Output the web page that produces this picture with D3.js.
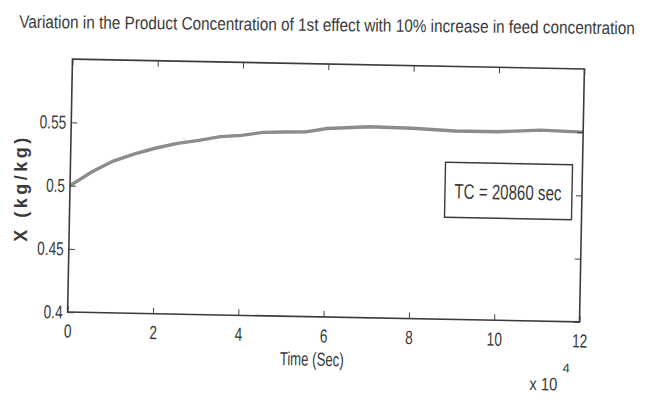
<!DOCTYPE html>
<html>
<head>
<meta charset="utf-8">
<script src="https://cdn.jsdelivr.net/npm/d3@7"></script>
<style>
  body { margin: 0; background: #fff; }
  svg { display: block; }
  text { fill: #3a3a3a; }
</style>
</head>
<body>
<svg id="chart" width="652" height="405"></svg>
<script>
// ---- data ----
const timeSec = [0, 5000, 10000, 15000, 20000, 25000, 30000, 35000, 40000, 45000, 50000, 55000, 60000, 70000, 80000, 90000, 100000, 110000, 120000];
const concentration = [0.500, 0.511, 0.520, 0.526, 0.531, 0.535, 0.5377, 0.541, 0.5423, 0.545, 0.5456, 0.546, 0.549, 0.551, 0.5505, 0.549, 0.549, 0.551, 0.550];
const xTicks = [0, 20000, 40000, 60000, 80000, 100000, 120000];
const xTickLabels = ["0", "2", "4", "6", "8", "10", "12"];
const yTicks = [0.4, 0.45, 0.5, 0.55];
const yTickLabels = ["0.4", "0.45", "0.5", "0.55"];
const titleText = "Variation in the Product Concentration of 1st effect with 10% increase in feed concentration";
const xLabel = "Time (Sec)";
const yLabel = "X (kg/kg)";
const annotation = "TC = 20860 sec";
const xExponentBase = "x 10";
const xExponent = "4";

// ---- layout ----
const svg = d3.select("#chart");
const L = 70, R = 582, T = 64, B = 317;
const cx = 326, cy = 190;
const font = "'Liberation Sans', Arial, sans-serif";

const x = d3.scaleLinear().domain([0, 120000]).range([L, R]);
const y = d3.scaleLinear().domain([0.4, 0.6]).range([B, T]);

// squeeze text horizontally to imitate the narrow scanned font
function condense(sel, f) {
  sel.each(function () {
    const w = this.getComputedTextLength();
    if (w > 0) d3.select(this).attr("textLength", w * f).attr("lengthAdjust", "spacingAndGlyphs");
  });
}

// title (scaled horizontally by a transform so its box stays inside the page)
const title = svg.append("text")
  .attr("x", 0).attr("y", 0)
  .attr("text-anchor", "middle")
  .attr("font-family", font)
  .attr("font-size", 18)
  .text(titleText);
const tw = title.node().getComputedTextLength();
title.attr("transform", `translate(327,31) rotate(0.6) scale(${616 / tw},1)`);

const g = svg.append("g").attr("transform", `rotate(1.1, ${cx}, ${cy})`);

// line
const line = d3.line().x((d, i) => x(timeSec[i])).y(d => y(d));
g.append("path")
  .datum(concentration)
  .attr("fill", "none")
  .attr("stroke", "#8c8c8c")
  .attr("stroke-width", 3.4)
  .attr("d", line);

// axes
const tickStyle = (sel, size) => {
  sel.select(".domain").remove();
  sel.selectAll("line").attr("stroke", "#444").attr("stroke-width", 1);
  sel.selectAll("text").attr("font-family", font).attr("font-size", size).attr("fill", "#3a3a3a");
};

g.append("g").attr("transform", `translate(0,${B})`)
  .call(d3.axisBottom(x).tickValues(xTicks).tickFormat((d, i) => xTickLabels[i]).tickSizeInner(-6).tickPadding(12))
  .call(s => tickStyle(s, 19))
  .call(s => condense(s.selectAll("text"), 0.72));
g.append("g").attr("transform", `translate(0,${T})`)
  .call(d3.axisTop(x).tickValues(xTicks).tickFormat("").tickSizeInner(-6))
  .call(s => tickStyle(s, 19));
g.append("g").attr("transform", `translate(${L},0)`)
  .call(d3.axisLeft(y).tickValues(yTicks).tickFormat((d, i) => yTickLabels[i]).tickSizeInner(-6).tickPadding(5))
  .call(s => tickStyle(s, 19))
  .call(s => condense(s.selectAll("text"), 0.72));
g.append("g").attr("transform", `translate(${R},0)`)
  .call(d3.axisRight(y).tickValues(yTicks).tickFormat("").tickSizeInner(-6))
  .call(s => tickStyle(s, 19));

// frame
g.append("rect")
  .attr("x", L).attr("y", T).attr("width", R - L).attr("height", B - T)
  .attr("fill", "none").attr("stroke", "#3c3c3c").attr("stroke-width", 1.6);

// annotation box
g.append("rect")
  .attr("x", 445).attr("y", 160).attr("width", 127).attr("height", 55)
  .attr("fill", "#fff").attr("stroke", "#3c3c3c").attr("stroke-width", 1.4);
g.append("text")
  .attr("x", 508).attr("y", 196)
  .attr("text-anchor", "middle")
  .attr("font-family", font)
  .attr("font-size", 21)
  .attr("textLength", 107)
  .attr("lengthAdjust", "spacingAndGlyphs")
  .text(annotation);

// x label
g.append("text")
  .attr("x", 315).attr("y", 366)
  .attr("text-anchor", "middle")
  .attr("font-family", font)
  .attr("font-size", 19)
  .attr("textLength", 64)
  .attr("lengthAdjust", "spacingAndGlyphs")
  .text(xLabel);

// exponent
g.append("text")
  .attr("x", 533).attr("y", 386)
  .attr("font-family", font)
  .attr("font-size", 18)
  .attr("textLength", 28)
  .attr("lengthAdjust", "spacingAndGlyphs")
  .text(xExponentBase);
g.append("text")
  .attr("x", 566).attr("y", 368)
  .attr("font-family", font)
  .attr("font-size", 13)
  .text(xExponent);

// y label
svg.append("text")
  .attr("transform", "translate(27,188) rotate(-90)")
  .attr("text-anchor", "middle")
  .attr("font-family", font)
  .attr("font-weight", "bold")
  .attr("font-size", 18)
  .attr("letter-spacing", 3.5)
  .attr("fill", "#555")
  .text(yLabel);
</script>
</body>
</html>
